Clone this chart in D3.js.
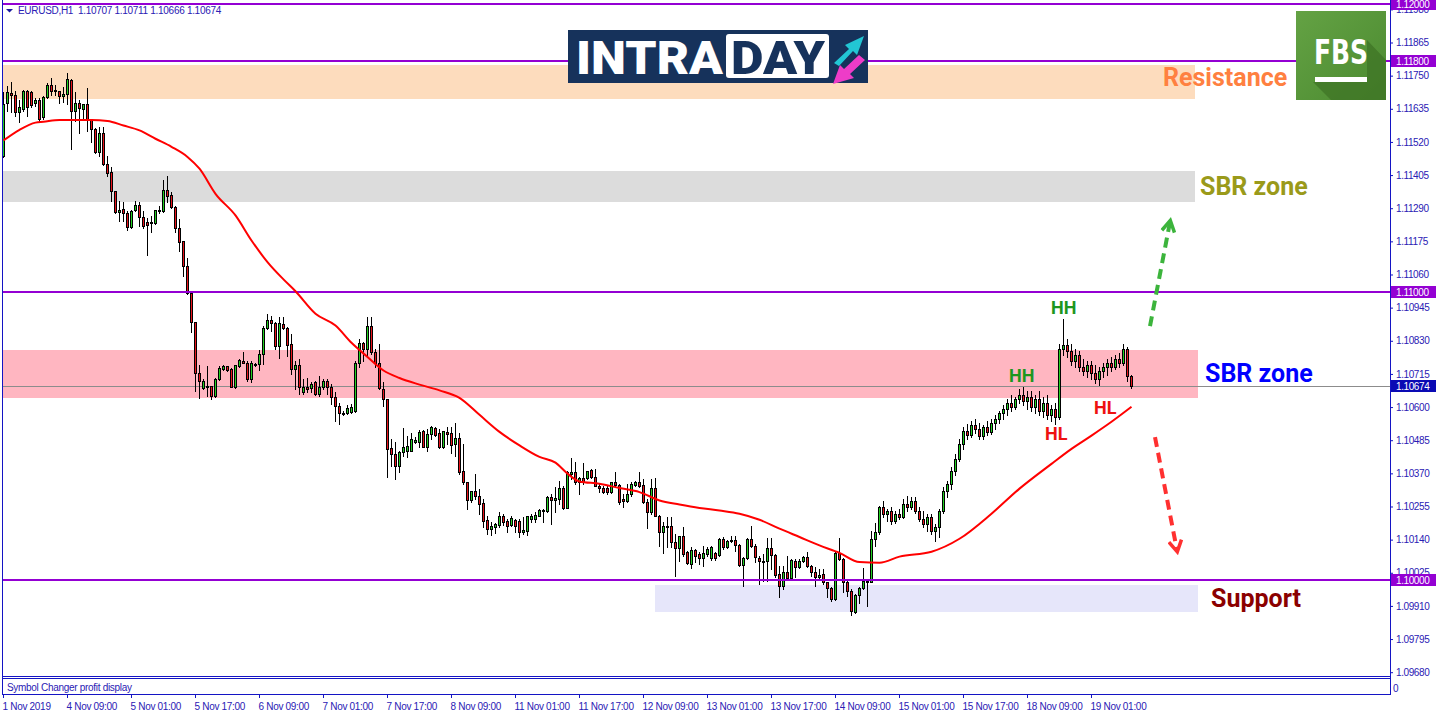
<!DOCTYPE html>
<html><head><meta charset="utf-8">
<script src="https://cdn.jsdelivr.net/npm/d3@7"></script>
<style>
html,body{margin:0;padding:0;background:#fff;overflow:hidden}
svg{display:block}
</style></head><body>
<svg id="chart" width="1436" height="716"></svg>
<script>
// ---------------- DATA (EURUSD H1, 1 Nov 17:00 -> 19 Nov 11:00) ----------------
const opens = [
1.11472,1.11656,1.11691,1.11684,1.11625,1.11635,1.11698,1.11694,1.11656,1.11667,
1.11608,1.11677,1.11719,1.11701,1.11698,1.11680,1.11687,1.11736,1.11628,1.11656,
1.11635,1.11653,1.11597,1.11566,1.11486,1.11552,1.11444,1.11417,1.11351,1.11278,
1.11288,1.11274,1.11226,1.11285,1.11302,1.11261,1.11243,1.11240,1.11240,1.11281,
1.11281,1.11354,1.11337,1.11295,1.11222,1.11177,1.11091,1.10997,1.10896,1.10719,
1.10667,1.10674,1.10674,1.10639,1.10698,1.10733,1.10744,1.10733,1.10671,1.10744,
1.10761,1.10754,1.10698,1.10747,1.10750,1.10785,1.10875,1.10903,1.10893,1.10813,
1.10889,1.10875,1.10820,1.10733,1.10747,1.10653,1.10671,1.10667,1.10688,1.10646,
1.10671,1.10691,1.10671,1.10636,1.10605,1.10580,1.10580,1.10584,1.10587,1.10754,
1.10823,1.10802,1.10882,1.10792,1.10754,1.10664,1.10629,1.10459,1.10438,1.10397,
1.10445,1.10448,1.10448,1.10480,1.10480,1.10518,1.10462,1.10508,1.10528,1.10511,
1.10462,1.10514,1.10511,1.10473,1.10494,1.10379,1.10341,1.10279,1.10310,1.10292,
1.10268,1.10209,1.10178,1.10185,1.10192,1.10223,1.10206,1.10192,1.10209,1.10206,
1.10167,1.10171,1.10213,1.10213,1.10223,1.10244,1.10240,1.10289,1.10279,1.10282,
1.10320,1.10251,1.10369,1.10376,1.10341,1.10355,1.10355,1.10383,1.10358,1.10327,
1.10320,1.10320,1.10306,1.10341,1.10331,1.10282,1.10275,1.10299,1.10331,1.10341,
1.10331,1.10272,1.10237,1.10320,1.10223,1.10167,1.10188,1.10188,1.10133,1.10112,
1.10153,1.10098,1.10056,1.10105,1.10091,1.10077,1.10091,1.10077,1.10095,1.10088,
1.10143,1.10115,1.10136,1.10139,1.10122,1.10053,1.10077,1.10143,1.10119,1.10077,
1.10067,1.10067,1.10112,1.10088,1.10022,1.09980,1.10029,1.10008,1.10067,1.10046,
1.10067,1.10081,1.10050,1.10029,1.10011,1.10022,1.09994,1.09973,1.09935,1.10095,
1.10074,1.09994,1.09963,1.09890,1.09949,1.09973,1.09994,1.09994,1.10143,1.10167,
1.10254,1.10230,1.10240,1.10206,1.10230,1.10220,1.10265,1.10254,1.10275,1.10240,
1.10213,1.10195,1.10220,1.10171,1.10185,1.10240,1.10310,1.10334,1.10379,1.10421,
1.10473,1.10518,1.10504,1.10539,1.10525,1.10500,1.10532,1.10514,1.10546,1.10560,
1.10580,1.10594,1.10615,1.10601,1.10629,1.10643,1.10622,1.10636,1.10601,1.10629,
1.10587,1.10615,1.10573,1.10594,1.10567,1.10802,1.10816,1.10795,1.10761,1.10781,
1.10740,1.10726,1.10747,1.10719,1.10698,1.10726,1.10740,1.10754,1.10740,1.10768,
1.10754,1.10802,1.10707];
const highs = [
1.11694,1.11715,1.11729,1.11698,1.11667,1.11701,1.11701,1.11698,1.11673,1.11673,
1.11680,1.11726,1.11743,1.11719,1.11698,1.11712,1.11760,1.11739,1.11694,1.11667,
1.11653,1.11708,1.11601,1.11569,1.11573,1.11573,1.11472,1.11434,1.11351,1.11316,
1.11313,1.11281,1.11285,1.11316,1.11313,1.11281,1.11257,1.11264,1.11285,1.11299,
1.11389,1.11403,1.11347,1.11299,1.11254,1.11177,1.11118,1.11000,1.10896,1.10747,
1.10698,1.10744,1.10674,1.10702,1.10744,1.10747,1.10744,1.10737,1.10747,1.10768,
1.10792,1.10761,1.10761,1.10754,1.10799,1.10882,1.10924,1.10917,1.10896,1.10913,
1.10913,1.10879,1.10854,1.10761,1.10768,1.10698,1.10702,1.10688,1.10691,1.10709,
1.10698,1.10698,1.10681,1.10653,1.10615,1.10587,1.10608,1.10612,1.10761,1.10837,
1.10827,1.10913,1.10913,1.10802,1.10820,1.10688,1.10629,1.10490,1.10480,1.10448,
1.10528,1.10500,1.10511,1.10497,1.10521,1.10521,1.10525,1.10535,1.10532,1.10525,
1.10518,1.10532,1.10532,1.10546,1.10511,1.10473,1.10341,1.10310,1.10369,1.10317,
1.10282,1.10223,1.10202,1.10199,1.10237,1.10230,1.10213,1.10223,1.10213,1.10213,
1.10220,1.10223,1.10230,1.10237,1.10247,1.10247,1.10292,1.10299,1.10324,1.10345,
1.10327,1.10379,1.10424,1.10410,1.10358,1.10407,1.10379,1.10386,1.10386,1.10334,
1.10327,1.10327,1.10341,1.10373,1.10334,1.10299,1.10334,1.10341,1.10345,1.10376,
1.10351,1.10282,1.10351,1.10355,1.10226,1.10202,1.10220,1.10220,1.10161,1.10153,
1.10185,1.10102,1.10115,1.10108,1.10098,1.10119,1.10115,1.10119,1.10098,1.10146,
1.10150,1.10139,1.10153,1.10153,1.10126,1.10081,1.10146,1.10188,1.10126,1.10084,
1.10091,1.10146,1.10146,1.10091,1.10050,1.10050,1.10084,1.10074,1.10074,1.10074,
1.10084,1.10098,1.10053,1.10046,1.10039,1.10039,1.09994,1.09977,1.10098,1.10146,
1.10077,1.09997,1.09970,1.09952,1.09977,1.10043,1.10004,1.10171,1.10199,1.10258,
1.10275,1.10247,1.10254,1.10240,1.10247,1.10282,1.10292,1.10289,1.10289,1.10254,
1.10240,1.10230,1.10230,1.10195,1.10247,1.10324,1.10345,1.10393,1.10438,1.10490,
1.10532,1.10542,1.10553,1.10560,1.10546,1.10539,1.10553,1.10560,1.10573,1.10587,
1.10608,1.10629,1.10643,1.10636,1.10664,1.10671,1.10657,1.10657,1.10643,1.10657,
1.10636,1.10643,1.10608,1.10615,1.10820,1.10906,1.10837,1.10820,1.10802,1.10795,
1.10768,1.10761,1.10761,1.10747,1.10740,1.10754,1.10768,1.10775,1.10782,1.10789,
1.10820,1.10809,1.10711];
const lows = [
1.11469,1.11628,1.11625,1.11611,1.11590,1.11628,1.11611,1.11642,1.11646,1.11590,
1.11601,1.11673,1.11684,1.11684,1.11656,1.11660,1.11653,1.11496,1.11594,1.11552,
1.11601,1.11559,1.11521,1.11483,1.11472,1.11441,1.11403,1.11316,1.11274,1.11247,
1.11247,1.11215,1.11222,1.11281,1.11229,1.11222,1.11129,1.11208,1.11236,1.11274,
1.11278,1.11313,1.11292,1.11208,1.11143,1.11056,1.10993,1.10861,1.10657,1.10632,
1.10663,1.10639,1.10629,1.10636,1.10695,1.10730,1.10726,1.10671,1.10667,1.10740,
1.10754,1.10691,1.10688,1.10744,1.10730,1.10750,1.10872,1.10865,1.10802,1.10771,
1.10872,1.10778,1.10716,1.10664,1.10646,1.10646,1.10653,1.10653,1.10643,1.10639,
1.10664,1.10646,1.10612,1.10553,1.10542,1.10573,1.10577,1.10580,1.10584,1.10740,
1.10761,1.10774,1.10785,1.10740,1.10664,1.10605,1.10358,1.10397,1.10351,1.10376,
1.10431,1.10428,1.10448,1.10476,1.10462,1.10462,1.10448,1.10490,1.10500,1.10459,
1.10459,1.10473,1.10442,1.10431,1.10369,1.10334,1.10247,1.10272,1.10282,1.10230,
1.10185,1.10161,1.10157,1.10164,1.10185,1.10192,1.10167,1.10188,1.10167,1.10150,
1.10161,1.10157,1.10202,1.10202,1.10223,1.10202,1.10237,1.10195,1.10237,1.10265,
1.10247,1.10251,1.10351,1.10334,1.10299,1.10334,1.10351,1.10355,1.10327,1.10306,
1.10303,1.10299,1.10303,1.10327,1.10265,1.10254,1.10272,1.10292,1.10327,1.10324,
1.10268,1.10181,1.10230,1.10223,1.10119,1.10095,1.10115,1.10115,1.10015,1.10067,
1.10084,1.10056,1.10043,1.10063,1.10056,1.10050,1.10084,1.10070,1.10070,1.10084,
1.10108,1.10112,1.10133,1.10102,1.10050,1.09980,1.10074,1.10115,1.10063,1.09987,
1.09997,1.09997,1.10039,1.10011,1.09942,1.09970,1.10004,1.10004,1.10011,1.10043,
1.10063,1.10046,1.10015,1.09980,1.10004,1.09987,1.09942,1.09928,1.09932,1.10070,
1.09959,1.09945,1.09879,1.09886,1.09921,1.09970,1.09911,1.09994,1.10119,1.10161,
1.10220,1.10206,1.10195,1.10199,1.10213,1.10216,1.10240,1.10247,1.10233,1.10206,
1.10185,1.10171,1.10161,1.10136,1.10150,1.10233,1.10289,1.10317,1.10365,1.10414,
1.10455,1.10490,1.10497,1.10511,1.10490,1.10490,1.10504,1.10508,1.10525,1.10546,
1.10560,1.10573,1.10587,1.10594,1.10615,1.10608,1.10594,1.10587,1.10580,1.10573,
1.10567,1.10560,1.10553,1.10542,1.10560,1.10781,1.10774,1.10747,1.10740,1.10726,
1.10712,1.10705,1.10698,1.10684,1.10677,1.10705,1.10712,1.10726,1.10733,1.10740,
1.10747,1.10690,1.10666];
const closes = [
1.11653,1.11694,1.11684,1.11625,1.11642,1.11698,1.11642,1.11649,1.11667,1.11601,
1.11677,1.11719,1.11698,1.11698,1.11680,1.11687,1.11739,1.11628,1.11656,1.11639,
1.11653,1.11597,1.11566,1.11486,1.11552,1.11444,1.11413,1.11351,1.11278,1.11285,
1.11274,1.11226,1.11281,1.11302,1.11261,1.11229,1.11233,1.11243,1.11285,1.11285,
1.11354,1.11333,1.11295,1.11222,1.11174,1.11091,1.10997,1.10896,1.10719,1.10691,
1.10691,1.10671,1.10639,1.10698,1.10737,1.10744,1.10730,1.10671,1.10747,1.10764,
1.10754,1.10698,1.10754,1.10750,1.10785,1.10875,1.10903,1.10893,1.10813,1.10893,
1.10875,1.10816,1.10733,1.10747,1.10671,1.10671,1.10664,1.10681,1.10646,1.10671,
1.10691,1.10671,1.10636,1.10605,1.10580,1.10577,1.10598,1.10601,1.10754,1.10823,
1.10802,1.10882,1.10792,1.10754,1.10667,1.10629,1.10455,1.10438,1.10397,1.10445,
1.10462,1.10466,1.10490,1.10487,1.10514,1.10462,1.10508,1.10532,1.10504,1.10462,
1.10518,1.10508,1.10469,1.10494,1.10376,1.10341,1.10279,1.10310,1.10292,1.10265,
1.10206,1.10178,1.10188,1.10195,1.10223,1.10202,1.10188,1.10216,1.10188,1.10167,
1.10174,1.10223,1.10223,1.10226,1.10244,1.10240,1.10289,1.10279,1.10286,1.10320,
1.10251,1.10376,1.10376,1.10341,1.10355,1.10341,1.10379,1.10358,1.10327,1.10320,
1.10306,1.10306,1.10341,1.10331,1.10272,1.10275,1.10299,1.10334,1.10341,1.10327,
1.10272,1.10237,1.10320,1.10223,1.10167,1.10188,1.10185,1.10133,1.10112,1.10153,
1.10091,1.10060,1.10105,1.10084,1.10077,1.10095,1.10108,1.10115,1.10077,1.10143,
1.10115,1.10136,1.10139,1.10122,1.10053,1.10077,1.10143,1.10119,1.10081,1.10067,
1.10063,1.10112,1.10088,1.10018,1.09980,1.10029,1.10008,1.10070,1.10046,1.10067,
1.10081,1.10050,1.10029,1.10011,1.10018,1.09994,1.09973,1.09935,1.10095,1.10074,
1.09994,1.09963,1.09893,1.09949,1.09973,1.09997,1.09997,1.10143,1.10167,1.10254,
1.10230,1.10240,1.10206,1.10230,1.10220,1.10265,1.10254,1.10275,1.10240,1.10213,
1.10195,1.10220,1.10171,1.10185,1.10240,1.10310,1.10334,1.10379,1.10421,1.10473,
1.10518,1.10504,1.10539,1.10525,1.10500,1.10532,1.10514,1.10546,1.10560,1.10580,
1.10594,1.10615,1.10601,1.10629,1.10643,1.10622,1.10636,1.10601,1.10629,1.10587,
1.10615,1.10573,1.10594,1.10567,1.10802,1.10816,1.10795,1.10761,1.10781,1.10740,
1.10726,1.10747,1.10719,1.10698,1.10726,1.10740,1.10754,1.10740,1.10768,1.10754,
1.10802,1.10707,1.10674];

// moving average (red line), read at these bar indices
const maIndex  = [0,4,8,10,14,22,26,30,34,38,42,46,49,53,58,62,66,70,73,78,83,87,91,95,99,
  104,109,114,119,124,129,134,138,141,144,149,154,159,164,169,174,179,184,189,194,199,204,209,
  214,219,224,232,239,247,254,262,267,272,277,282];
const maValues = [1.11525,1.11562,1.11587,1.11590,1.11596,1.11596,1.11593,1.11577,1.11560,1.11531,
  1.11503,1.11468,1.11427,1.11340,1.11265,1.11178,1.11103,1.11043,1.11002,1.10924,1.10883,1.10823,
  1.10774,1.10727,1.10701,1.10678,1.10658,1.10632,1.10573,1.10514,1.10467,1.10427,1.10407,1.10369,
  1.10342,1.10334,1.10319,1.10305,1.10276,1.10262,1.10250,1.10241,1.10230,1.10209,1.10178,1.10149,
  1.10120,1.10094,1.10062,1.10060,1.10081,1.10098,1.10143,1.10230,1.10317,1.10403,1.10455,1.10501,
  1.10549,1.10601];

const xTickIndex  = [0,16,32,48,64,80,96,112,128,144,160,176,192,208,224,240,256,272];
const xTickLabels = ["1 Nov 2019","4 Nov 09:00","5 Nov 01:00","5 Nov 17:00","6 Nov 09:00",
  "7 Nov 01:00","7 Nov 17:00","8 Nov 09:00","11 Nov 01:00","11 Nov 17:00","12 Nov 09:00",
  "13 Nov 01:00","13 Nov 17:00","14 Nov 09:00","15 Nov 01:00","15 Nov 17:00","18 Nov 09:00",
  "19 Nov 01:00"];
const yTickValues = [1.09680,1.09795,1.09910,1.10025,1.10140,1.10255,1.10370,1.10485,1.10600,
  1.10715,1.10830,1.10945,1.11060,1.11175,1.11290,1.11405,1.11520,1.11635,1.11750,1.11865,1.11980];

const levelPrices = [1.12000, 1.11800, 1.11000, 1.10000];
const lastPrice = 1.10674;
const headerText = "EURUSD,H1  1.10707 1.10711 1.10666 1.10674";

// zones (price ranges, bar-index extents)
const zoneNames = ["Resistance","SBR upper","SBR lower","Support"];
const zoneHigh  = [1.11788, 1.11420, 1.10799, 1.09984];
const zoneLow   = [1.11670, 1.11313, 1.10632, 1.09890];
const zoneFrom  = [-5, -5, -5, 163];
const zoneTo    = [298, 298, 298.75, 298.75];

// annotations: text, bar index, price
const noteText  = ["Resistance","SBR zone","SBR zone","Support","HH","HH","HL","HL"];
const noteBar   = [290, 299.25, 300.5, 302, 251.5, 262, 260.5, 272.75];
const notePrice = [1.11742, 1.11367, 1.10718, 1.09937, 1.10708, 1.10944, 1.10510, 1.10600];

// forecast arrows: [barFrom, priceFrom, barTo, priceTo]
const arrowUp   = [286.75, 1.10881, 291.75, 1.11242];
const arrowDown = [288.0, 1.10496, 293.5, 1.10103];

// ---------------- STYLE ----------------
const STY = {
  axis:"#1414c4", text:"#2a20b4", level:"#9400d3", bull:"#22d022", bear:"#e8141c",
  ma:"#ff0000", price:"#8c8c8c", priceBox:"#0a0ab4",
  zones:["#fddcbd","#dcdcdc","#ffb6c1","#e6e6fa"],
  notes:["#ff8040","#9a9a1a","#0000ff","#8b0000","#1e961e","#1e961e","#ee1111","#ee1111"],
  noteSize:[25,25,25,25,18,18,18,18]
};
const FONT = "'Liberation Sans', Arial, sans-serif";
const BOLD = "Roboto, 'Liberation Sans', Arial, sans-serif";

// ---------------- SCALES ----------------
const plotL = 3, plotR = 1390, plotT = 0, plotB = 676;
const xs = d3.scaleLinear().domain([0, 346.75]).range([3, 1390]);
const ys = d3.scaleLinear().domain([1.12, 1.0968]).range([3.6, 672.2]);

const svg = d3.select("#chart");
svg.append("rect").attr("width",1436).attr("height",716).attr("fill","#fff");
const defs = svg.append("defs");
defs.append("clipPath").attr("id","plotClip").append("rect")
  .attr("x",plotL).attr("y",plotT).attr("width",plotR-plotL).attr("height",plotB-plotT);

const plot = svg.append("g").attr("clip-path","url(#plotClip)");

// zones
plot.append("g").attr("shape-rendering","crispEdges").selectAll("rect")
  .data(zoneNames).join("rect")
  .attr("x",(d,i)=>Math.round(xs(zoneFrom[i])))
  .attr("width",(d,i)=>Math.round(xs(zoneTo[i]))-Math.round(xs(zoneFrom[i])))
  .attr("y",(d,i)=>Math.round(ys(zoneHigh[i])))
  .attr("height",(d,i)=>Math.round(ys(zoneLow[i]))-Math.round(ys(zoneHigh[i])))
  .attr("fill",(d,i)=>STY.zones[i]);

// current price line
plot.append("line").attr("x1",plotL).attr("x2",plotR)
  .attr("y1",Math.round(ys(lastPrice))+0.5).attr("y2",Math.round(ys(lastPrice))+0.5)
  .attr("stroke",STY.price).attr("stroke-width",1).attr("shape-rendering","crispEdges");

// candles
const bars = closes.map((c,i)=>({i,o:opens[i],h:highs[i],l:lows[i],c}));
const cg = plot.append("g").attr("shape-rendering","crispEdges");
const candle = cg.selectAll("g").data(bars).join("g");
const bx = d => Math.round(xs(d.i));
const bTop = d => Math.round(ys(Math.max(d.o,d.c)));
const bBot = d => Math.round(ys(Math.min(d.o,d.c)));
candle.append("rect").attr("x",bx).attr("width",1)
  .attr("y",d=>Math.round(ys(d.h))).attr("height",d=>Math.max(1,Math.round(ys(d.l))-Math.round(ys(d.h))+1))
  .attr("fill","#000");
candle.append("rect").attr("x",d=>bx(d)-1).attr("width",3)
  .attr("y",bTop).attr("height",d=>Math.max(1,bBot(d)-bTop(d)+1)).attr("fill","#000");
candle.filter(d=>bBot(d)-bTop(d)>=2).append("rect").attr("x",bx).attr("width",1)
  .attr("y",d=>bTop(d)+1).attr("height",d=>bBot(d)-bTop(d)-1)
  .attr("fill",d=>d.c>=d.o?STY.bull:STY.bear);

// level lines
plot.append("g").selectAll("line").data(levelPrices).join("line")
  .attr("x1",plotL).attr("x2",plotR)
  .attr("y1",d=>Math.round(ys(d))).attr("y2",d=>Math.round(ys(d)))
  .attr("stroke",STY.level).attr("stroke-width",2).attr("shape-rendering","crispEdges");

// moving average
const maLine = d3.line().x((d,i)=>xs(maIndex[i])+0.5).y(d=>ys(d)).curve(d3.curveMonotoneX);
plot.append("path").attr("d",maLine(maValues)).attr("fill","none")
  .attr("stroke",STY.ma).attr("stroke-width",2);

// annotations
plot.append("g").selectAll("text").data(noteText).join("text")
  .attr("x",(d,i)=>xs(noteBar[i])).attr("y",(d,i)=>ys(notePrice[i]))
  .attr("dominant-baseline","central")
  .attr("font-family",BOLD).attr("font-weight",700)
  .attr("font-size",(d,i)=>STY.noteSize[i]).attr("fill",(d,i)=>STY.notes[i])
  .text(d=>d);

// dashed arrows
function arrow(a, color, id){
  const m = defs.append("marker").attr("id",id).attr("viewBox","0 0 10 10")
    .attr("refX",7).attr("refY",5).attr("markerWidth",4).attr("markerHeight",4)
    .attr("orient","auto").attr("markerUnits","strokeWidth");
  m.append("path").attr("d","M1,1 L8,5 L1,9").attr("fill","none")
    .attr("stroke",color).attr("stroke-width",2.2).attr("stroke-linejoin","miter");
  plot.append("line").attr("x1",xs(a[0])).attr("y1",ys(a[1])).attr("x2",xs(a[2])).attr("y2",ys(a[3]))
    .attr("stroke",color).attr("stroke-width",4).attr("stroke-dasharray","10,6")
    .attr("marker-end",`url(#${id})`);
}
arrow(arrowUp, "#3cb43c", "headUp");
arrow(arrowDown, "#ff3030", "headDown");

// ---------------- LOGOS ----------------
const logo = svg.append("g");
logo.append("rect").attr("x",568).attr("y",30).attr("width",300).attr("height",53).attr("fill","#16325b");
logo.append("text").attr("x",576).attr("y",74).attr("font-family",BOLD).attr("font-weight",900)
  .attr("font-size",46).attr("fill","#fff").attr("textLength",147).attr("lengthAdjust","spacingAndGlyphs").text("INTRA");
logo.append("rect").attr("x",726).attr("y",34).attr("width",103).attr("height",44).attr("rx",3).attr("fill","#fff");
logo.append("text").attr("x",731).attr("y",74).attr("font-family",BOLD).attr("font-weight",900)
  .attr("font-size",46).attr("fill","#16325b").attr("textLength",94).attr("lengthAdjust","spacingAndGlyphs").text("DAY");
logo.append("path").attr("d","M834,63 L849,49 L845,45 L864,36 L857,55 L853,51 L839,66 Z").attr("fill","#22c6d4");
logo.append("path").attr("d","M865,60 L850,74 L854,78 L833,84 L840,65 L844,69 L859,55 Z").attr("fill","#ee3cc8");

const fbs = svg.append("g");
const grad = defs.append("linearGradient").attr("id","fbsGrad").attr("x1",0).attr("y1",0).attr("x2",1).attr("y2",1);
grad.append("stop").attr("offset","0%").attr("stop-color","#64a244");
grad.append("stop").attr("offset","100%").attr("stop-color","#4b8a30");
fbs.append("rect").attr("x",1296).attr("y",11).attr("width",90).attr("height",89).attr("fill","url(#fbsGrad)");
fbs.append("path").attr("d","M1313,82 L1367,82 L1367,40 L1386,60 L1386,100 L1331,100 Z").attr("fill","#3f7426").attr("opacity",0.75);
fbs.append("text").attr("x",1314).attr("y",64).attr("font-family","'DejaVu Sans Condensed','Liberation Sans Narrow',sans-serif")
  .attr("font-weight",700).attr("font-size",33).attr("fill","#fff").attr("textLength",54)
  .attr("lengthAdjust","spacingAndGlyphs").text("FBS");
fbs.append("rect").attr("x",1315).attr("y",77).attr("width",52).attr("height",5).attr("fill","#fff");

// ---------------- FRAME & AXES ----------------
const frame = svg.append("g").attr("shape-rendering","crispEdges").attr("stroke",STY.axis).attr("fill","none");
frame.append("line").attr("x1",2.5).attr("x2",2.5).attr("y1",0).attr("y2",695);
frame.append("line").attr("x1",1390.5).attr("x2",1390.5).attr("y1",0).attr("y2",695);
frame.append("line").attr("x1",2.5).attr("x2",1390.5).attr("y1",676.5).attr("y2",676.5);
frame.append("rect").attr("x",2.5).attr("y",678.5).attr("width",1388).attr("height",16);

// right price axis (labels hidden behind the level boxes are clipped to the visible part)
const yAxis = d3.axisRight(ys).tickValues(yTickValues).tickSize(3).tickPadding(3)
  .tickFormat(d3.format(".5f"));
const ya = svg.append("g").attr("transform","translate(1390,0)").call(yAxis);
ya.select(".domain").remove();
ya.selectAll(".tick line").attr("stroke",STY.axis);
ya.selectAll(".tick text").attr("fill",STY.text).attr("font-family",FONT).attr("font-size",10)
  .attr("letter-spacing","-0.4px");

// level price boxes
const boxes = svg.append("g");
const boxData = levelPrices.map(p=>({p,fill:STY.level})).concat([{p:lastPrice,fill:STY.priceBox}]);
boxes.selectAll("rect").data(boxData).join("rect")
  .attr("x",1391).attr("width",45).attr("y",d=>Math.round(ys(d.p))-6).attr("height",12)
  .attr("fill",d=>d.fill);
boxes.selectAll("text").data(boxData).join("text")
  .attr("x",1396).attr("y",d=>Math.round(ys(d.p))+4).attr("fill","#fff")
  .attr("font-family",FONT).attr("font-size",10).attr("letter-spacing","-0.4px")
  .text(d=>d3.format(".5f")(d.p));

// bottom time axis
const xAxis = d3.axisBottom(xs).tickValues(xTickIndex).tickSize(3).tickPadding(3)
  .tickFormat((d,i)=>xTickLabels[i]);
const xa = svg.append("g").attr("transform","translate(0,695)").call(xAxis);
xa.select(".domain").remove();
xa.selectAll(".tick line").attr("stroke",STY.axis);
xa.selectAll(".tick text").attr("fill",STY.text).attr("font-family",FONT).attr("font-size",10)
  .attr("letter-spacing","-0.3px").attr("text-anchor","start").attr("dx",-1).attr("dy","0.9em");

// texts
svg.append("path").attr("d","M6,9 L13,9 L9.5,12.5 Z").attr("fill","#1a1aa0");
svg.append("text").attr("x",18).attr("y",14).attr("fill",STY.text).attr("font-family",FONT)
  .attr("font-size",10).attr("letter-spacing","-0.3px").style("white-space","pre").text(headerText);
svg.append("text").attr("x",7).attr("y",691).attr("fill",STY.text).attr("font-family",FONT)
  .attr("font-size",10).attr("letter-spacing","-0.3px").text("Symbol Changer profit display");
svg.append("text").attr("x",1393).attr("y",692).attr("fill",STY.text).attr("font-family",FONT)
  .attr("font-size",10).text("0");
</script>
</body></html>
